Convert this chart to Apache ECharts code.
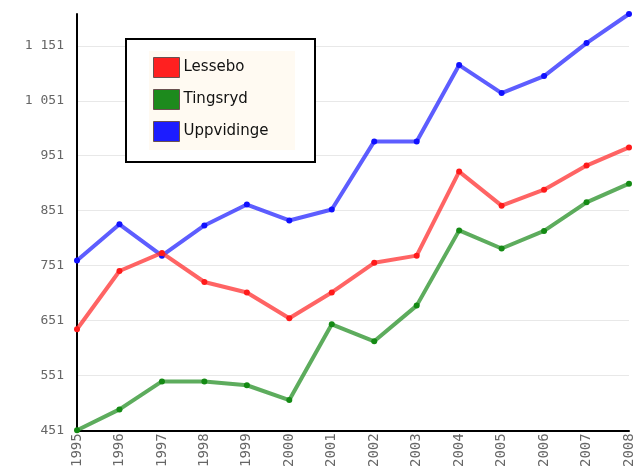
<!DOCTYPE html>
<html>
<head>
<meta charset="utf-8">
<script src="https://cdn.jsdelivr.net/npm/echarts@6/dist/echarts.min.js"></script>
<style>
html, body { margin: 0; padding: 0; background: #fff; }
#chart { width: 638px; height: 470px; }
</style>
</head>
<body>
<div id="chart"></div>
<script>
// years on the x axis
const years = ['1995', '1996', '1997', '1998', '1999', '2000', '2001',
	'2002', '2003', '2004', '2005', '2006', '2007', '2008'];

// values
const lessebo = [635, 741, 774, 721, 702, 655, 702, 756, 769, 922, 860, 889, 933, 966];
const tingsryd = [451, 489, 540, 540, 533, 506, 644, 613, 678, 815, 782, 814, 866, 900];
const uppvidinge = [760, 826, 769, 824, 862, 833, 853, 977, 977, 1116, 1065, 1096, 1156, 1209];

const names = ['Lessebo', 'Tingsryd', 'Uppvidinge'];
const lineColors = ['rgba(255,40,40,0.72)', 'rgba(30,140,30,0.72)', 'rgba(30,30,255,0.72)'];
const dotColors = ['#ff1a1a', '#148a14', '#1010ff'];
const iconColors = ['#ff2020', '#1d8a1d', '#1c1cff'];

const chart = echarts.init(document.getElementById('chart'));

function fmt(v) {
	if (v >= 1000) {
		return Math.floor(v / 1000) + ' ' + String(v % 1000).padStart(3, '0');
	}
	return String(v);
}

const seriesData = [lessebo, tingsryd, uppvidinge];
const series = seriesData.map(function (d, i) {
	return {
		name: names[i],
		type: 'line',
		data: d,
		symbol: 'circle',
		symbolSize: 6,
		showSymbol: true,
		animation: false,
		lineStyle: { width: 4, color: lineColors[i] },
		itemStyle: { color: dotColors[i] },
		z: 2 + (2 - i)
	};
});

const option = {
	backgroundColor: '#fff',
	animation: false,
	grid: { left: 77, right: 9, top: 14, bottom: 39, containLabel: false },
	legend: {
		orient: 'vertical',
		left: 153,
		top: 57,
		padding: 0,
		itemWidth: 26,
		itemHeight: 20,
		itemGap: 11,
		icon: 'rect',
		data: names.map(function (n, i) {
			return { name: n, itemStyle: { color: iconColors[i], borderColor: '#6a5050', borderWidth: 1 } };
		}),
		textStyle: { color: '#111', fontSize: 15, fontFamily: 'DejaVu Sans', padding: [0, 0, 0, -1] },
		z: 10
	},
	graphic: [
		{
			type: 'rect',
			shape: { x: 126, y: 39, width: 189, height: 123 },
			style: { fill: '#fff', stroke: '#000', lineWidth: 2 },
			z: 5
		},
		{
			type: 'rect',
			shape: { x: 149, y: 51, width: 146, height: 99 },
			style: { fill: '#fffaf2' },
			z: 6
		}
	],
	xAxis: {
		type: 'category',
		data: years,
		boundaryGap: false,
		axisLine: { lineStyle: { color: '#000', width: 2 } },
		axisTick: { show: false },
		axisLabel: {
			rotate: 90,
			margin: 3,
			color: '#666',
			fontSize: 14,
			fontFamily: 'DejaVu Sans Mono'
		},
		splitLine: { show: false }
	},
	yAxis: {
		type: 'value',
		min: 451,
		max: 1209,
		interval: 100,
		axisLine: { show: true, lineStyle: { color: '#000', width: 2 } },
		axisTick: { show: false },
		axisLabel: {
			margin: 13,
			color: '#666',
			fontSize: 13,
			fontFamily: 'DejaVu Sans Mono',
			showMaxLabel: false,
			formatter: fmt
		},
		splitLine: { show: true, showMaxLine: false, lineStyle: { color: '#e8e8e8', width: 1 } }
	},
	series: series
};

chart.setOption(option);
</script>
</body>
</html>
